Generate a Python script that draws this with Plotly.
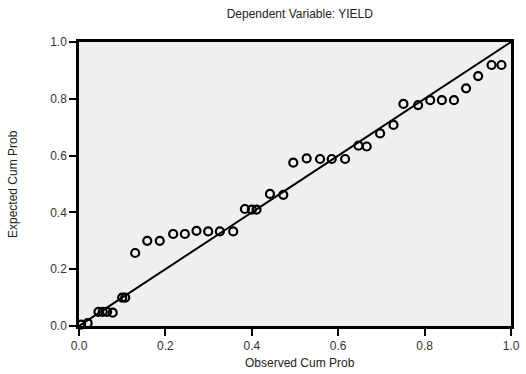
import plotly.graph_objects as go

observed_cum_prob = [0.005, 0.02, 0.045, 0.055, 0.065, 0.078, 0.10, 0.107, 0.13, 0.158,
                     0.187, 0.218, 0.245, 0.272, 0.299, 0.326, 0.357, 0.384, 0.40, 0.411,
                     0.442, 0.473, 0.496, 0.527, 0.558, 0.585, 0.616, 0.647, 0.666, 0.697,
                     0.728, 0.751, 0.785, 0.813, 0.84, 0.868, 0.896, 0.924, 0.955, 0.978]
expected_cum_prob = [0.005, 0.01, 0.05, 0.05, 0.05, 0.047, 0.10, 0.10, 0.257, 0.30,
                     0.30, 0.324, 0.324, 0.335, 0.333, 0.333, 0.333, 0.412, 0.41, 0.41,
                     0.465, 0.462, 0.575, 0.59, 0.588, 0.588, 0.588, 0.635, 0.632, 0.678,
                     0.708, 0.782, 0.778, 0.795, 0.795, 0.795, 0.837, 0.88, 0.919, 0.919]
ref_line = [0.0, 1.0]
tick_vals = [0.0, 0.2, 0.4, 0.6, 0.8, 1.0]
tick_text = ["0.0", "0.2", "0.4", "0.6", "0.8", "1.0"]

font = "Arial, Liberation Sans, sans-serif"

fig = go.Figure()
fig.add_trace(go.Scatter(x=ref_line, y=ref_line, mode="lines",
                         line=dict(color="black", width=2), hoverinfo="skip"))
fig.add_trace(go.Scatter(x=observed_cum_prob, y=expected_cum_prob, mode="markers",
                         marker=dict(symbol="circle-open", size=8, color="black",
                                     line=dict(color="black", width=2.2)),
                         cliponaxis=False))

axis_common = dict(range=[0, 1], tickvals=tick_vals, ticktext=tick_text,
                   showgrid=False, zeroline=False, showline=True, mirror=True,
                   linecolor="black", linewidth=2.5, ticks="outside", ticklen=7,
                   tickcolor="black", tickwidth=2, automargin=False,
                   tickfont=dict(family=font, size=12, color="#333333"))

title_font = dict(family=font, size=12, color="#222222")

fig.update_layout(
    width=526, height=374,
    margin=dict(l=79, r=15, t=42, b=48),
    paper_bgcolor="white", plot_bgcolor="#efefef",
    showlegend=False,
    title=dict(text="Dependent Variable: YIELD", x=0.57, xanchor="center",
               y=0.9626, yanchor="middle", font=title_font),
    xaxis=dict(**axis_common),
    yaxis=dict(**axis_common),
    annotations=[
        dict(text="Observed Cum Prob", xref="paper", yref="paper", x=0.512, y=0,
             yshift=-37, xanchor="center", yanchor="middle", showarrow=False,
             font=title_font),
        dict(text="Expected Cum Prob", xref="paper", yref="paper", x=0, y=0.5,
             xshift=-66, xanchor="center", yanchor="middle", textangle=-90,
             showarrow=False, font=title_font),
    ],
)

fig.write_html("out.html", config={"displayModeBar": False},
               post_script="document.body.style.margin='0';")
